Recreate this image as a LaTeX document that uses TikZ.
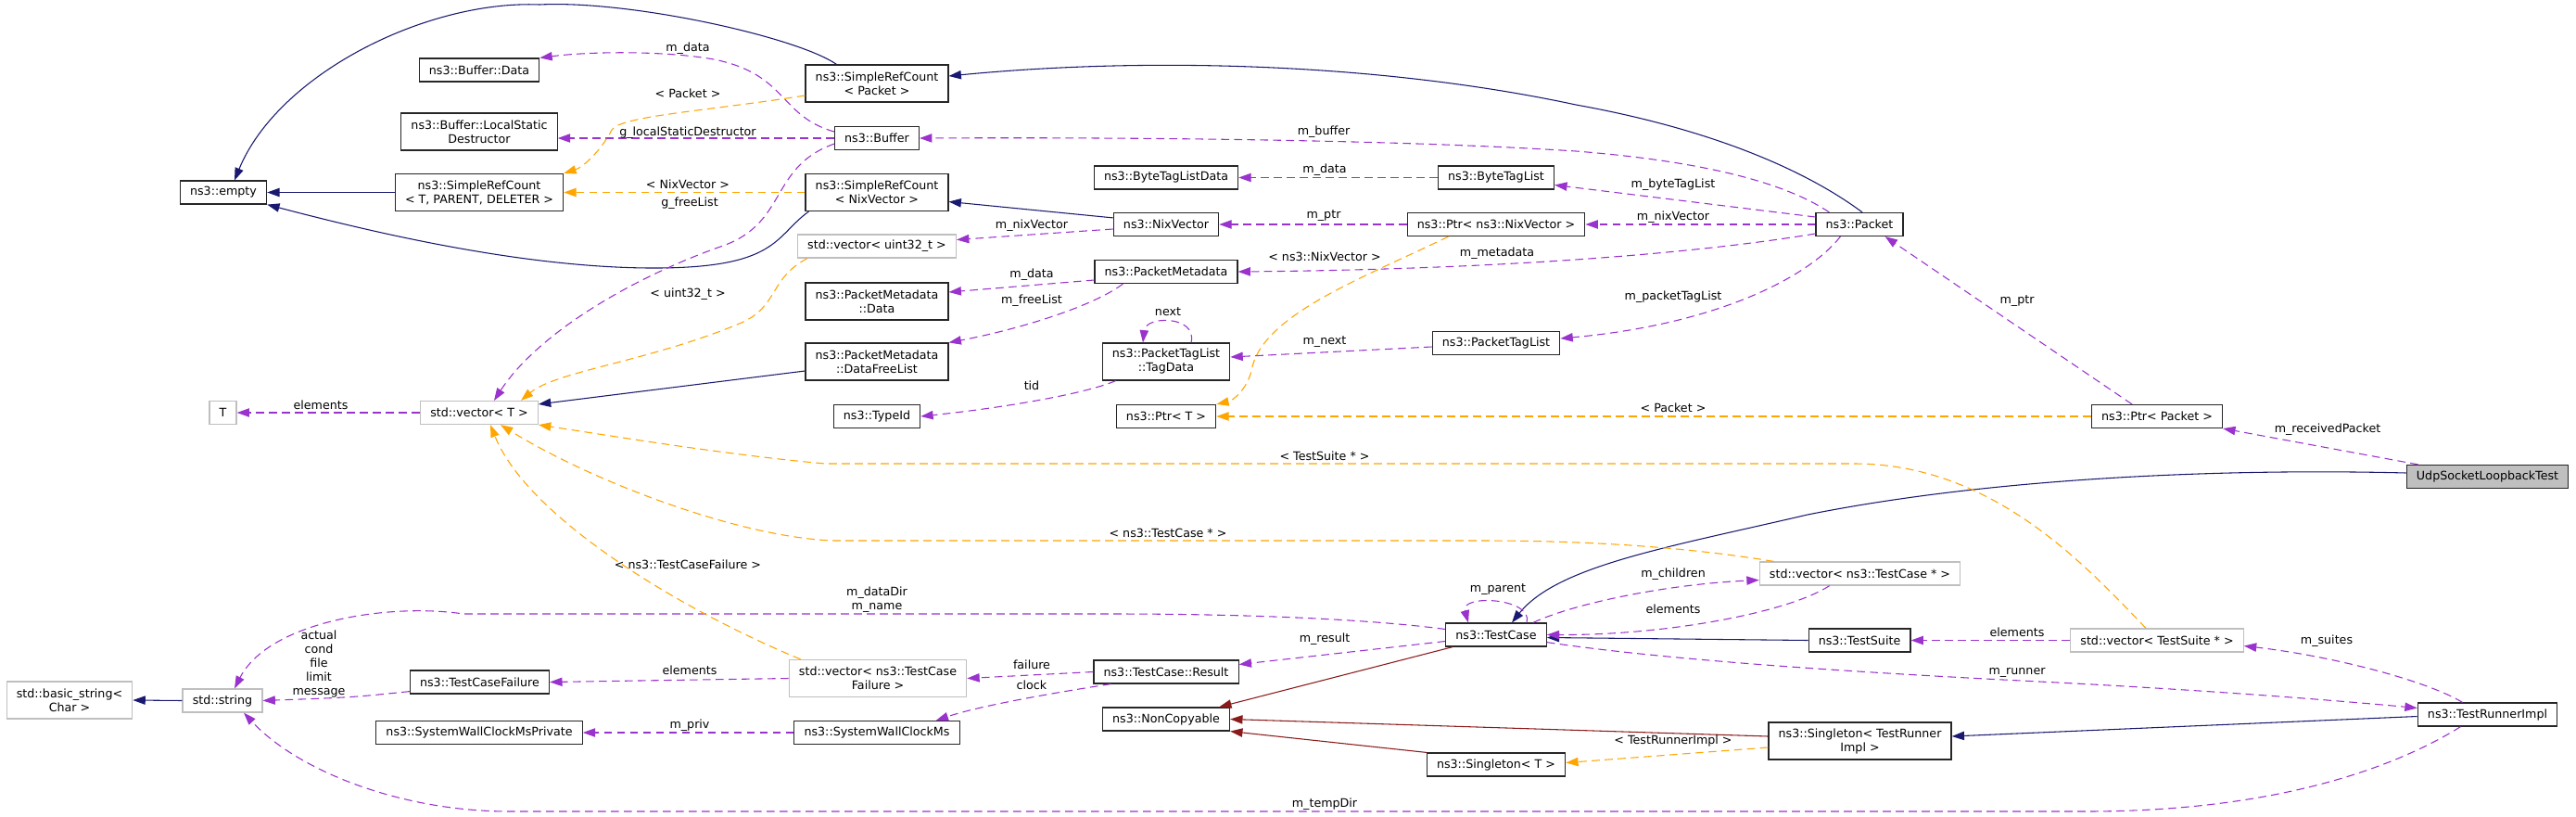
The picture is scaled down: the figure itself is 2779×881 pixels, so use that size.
\documentclass[tikz,border=0pt]{standalone}
\usepackage{fontspec}
\setmainfont{DejaVu Sans}
\usetikzlibrary{arrows.meta, calc}
\usetikzlibrary{positioning}

\definecolor{inhBlue}{HTML}{191970}
\definecolor{usePurple}{HTML}{9A32CD}
\definecolor{tmplOrange}{HTML}{FFA500}
\definecolor{privRed}{HTML}{8B1A1A}
\definecolor{extGray}{HTML}{BFBFBF}

\tikzset{
	classBox/.style={draw=black!85, fill=white, line width=0.9pt, font=\fontsize{9.5}{11.25}\selectfont,
		align=center, inner xsep=8pt, inner ysep=2pt, minimum height=18.75pt},
	extBox/.style={classBox, draw=extGray},
	twoLine/.style={minimum height=30pt},
	edgeLabel/.style={font=\fontsize{9.5}{11.25}\selectfont, align=center, inner sep=0pt},
	inherit/.style={draw=inhBlue, line width=0.8pt, -{Triangle[length=10pt,width=7pt]}},
	privInherit/.style={inherit, draw=privRed},
	usage/.style={inherit, draw=usePurple, dash pattern=on 6.5pt off 4pt},
	templ/.style={usage, draw=tmplOrange}
}

\begin{document}
\begin{tikzpicture}[x=0.75pt, y=-0.75pt]
		\fill[white] (0,0) rectangle (2779,881);
		\useasboundingbox (0,0) rectangle (2779,881);

		% Classes, left part.
		\node[classBox] (empty) at (241,207.5) {ns3::empty};
		\node[classBox] (bufdata) at (517,75.5) {ns3::Buffer::Data};
		\node[classBox,twoLine] (bufdestr) at (517,142) {ns3::Buffer::LocalStatic\\Destructor};
		\node[classBox,twoLine] (srctpd) at (517,207.5) {ns3::SimpleRefCount\\< T, PARENT, DELETER >};
		\node[extBox] (tnode) at (240.5,445) {T};
		\node[extBox] (vect) at (517,445) {std::vector< T >};
		\node[extBox] (string) at (240,755.5) {std::string};
		\node[extBox,twoLine] (basicstr) at (75,755) {std::basic\_string<\\Char >};
		\node[classBox] (casefail) at (517.5,735.5) {ns3::TestCaseFailure};
		\node[classBox] (swcpriv) at (517,790) {ns3::SystemWallClockMsPrivate};

		% Classes, second column.
		\node[classBox,twoLine] (srcpkt) at (946,90) {ns3::SimpleRefCount\\< Packet >};
		\node[classBox] (buffer) at (946,149) {ns3::Buffer};
		\node[classBox,twoLine] (srcnix) at (946,207.5) {ns3::SimpleRefCount\\< NixVector >};
		\node[extBox] (vecu32) at (946,265.5) {std::vector< uint32\_t >};
		\node[classBox,twoLine] (pmdata) at (946,325) {ns3::PacketMetadata\\::Data};
		\node[classBox,twoLine] (pmfree) at (946,390) {ns3::PacketMetadata\\::DataFreeList};
		\node[classBox] (typeid) at (946,449) {ns3::TypeId};
		\node[extBox,twoLine] (vecfail) at (947,731.5) {std::vector< ns3::TestCase\\Failure >};
		\node[classBox] (swc) at (946,790) {ns3::SystemWallClockMs};

		% Classes, third column.
		\node[classBox] (btldata) at (1258,191.5) {ns3::ByteTagListData};
		\node[classBox] (nixvec) at (1258,242) {ns3::NixVector};
		\node[classBox] (pktmeta) at (1258,293) {ns3::PacketMetadata};
		\node[classBox,twoLine] (tagdata) at (1258,390) {ns3::PacketTagList\\::TagData};
		\node[classBox] (ptrt) at (1258,449) {ns3::Ptr< T >};
		\node[classBox] (result) at (1258,724.5) {ns3::TestCase::Result};
		\node[classBox] (noncopy) at (1258,775.5) {ns3::NonCopyable};

		% Classes, fourth column.
		\node[classBox] (btl) at (1614,191.5) {ns3::ByteTagList};
		\node[classBox] (ptrnix) at (1614,242) {ns3::Ptr< ns3::NixVector >};
		\node[classBox] (ptl) at (1614,370) {ns3::PacketTagList};
		\node[classBox] (testcase) at (1614,684.5) {ns3::TestCase};
		\node[classBox] (singt) at (1614,824.5) {ns3::Singleton< T >};

		% Classes, right part.
		\node[classBox] (packet) at (2006,242) {ns3::Packet};
		\node[extBox] (veccase) at (2006.5,618.5) {std::vector< ns3::TestCase * >};
		\node[classBox] (suite) at (2006,690.5) {ns3::TestSuite};
		\node[classBox,twoLine] (singrun) at (2006.5,799) {ns3::Singleton< TestRunner\\Impl >};
		\node[classBox] (ptrpkt) at (2327,449) {ns3::Ptr< Packet >};
		\node[extBox] (vecsuite) at (2327,690.5) {std::vector< TestSuite * >};
		\node[classBox,fill=extGray] (udp) at (2683.5,514) {UdpSocketLoopbackTest};
		\node[classBox] (runner) at (2683.5,770.5) {ns3::TestRunnerImpl};

		% Public inheritance.
		\draw[inherit] ($(srcpkt.north west)+(34,0)$) .. controls (860,40) and (680,0) .. (582,5) .. controls (460,0) and (300,80) .. ($(empty.north)+(12,0)$);
		\draw[inherit] (srctpd.west) -- (empty.east);
		\draw[inherit] ($(srcnix.south west)+(4,0)$) .. controls (835,255) and (840,290) .. (700,289) .. controls (560,288) and (400,250) .. (empty.south east);
		\draw[inherit] ($(packet.north)+(3,0)$) .. controls (1950,185) and (1850,140) .. (1700,113) .. controls (1500,70) and (1250,60) .. ($(srcpkt.east)+(0,-8)$);
		\draw[inherit] ($(nixvec.north west)+(0,6)$) -- ($(srcnix.east)+(0,10)$);
		\draw[inherit] ($(pmfree.west)+(0,10)$) -- ($(vect.north east)+(0,4)$);
		\draw[inherit] (suite.west) -- ($(testcase.east)+(0,3)$);
		\draw[inherit] ($(udp.west)+(0,-4)$) .. controls (2400,505) and (2150,515) .. (1950,555) .. controls (1800,590) and (1680,610) .. ($(testcase.north)+(17,0)$);
		\draw[inherit] ($(runner.west)+(0,2)$) -- ($(singrun.east)+(0,-5)$);
		\draw[inherit] (string.west) -- (basicstr.east);

		% Private inheritance.
		\draw[privInherit] ($(testcase.south west)+(8,0)$) -- ($(noncopy.north east)+(-12,0)$);
		\draw[privInherit] ($(singrun.west)+(0,-5)$) -- (noncopy.east);
		\draw[privInherit] (singt.north west) -- (noncopy.south east);

		% Members.
		\draw[usage] ($(buffer.west)+(0,-7)$) .. controls (840,125) and (850,80) .. (770,64) .. controls (720,55) and (640,55) .. (bufdata.north east) node[edgeLabel] at (742,52) {m\_data};
		\draw[usage] (buffer.west) -- ($(bufdestr.east)+(0,7)$) node[edgeLabel] at (742,143) {g\_localStaticDestructor};
		\draw[usage] ($(buffer.south west)+(0,-7)$) .. controls (830,180) and (850,240) .. (780,265) .. controls (680,300) and (580,360) .. ($(vect.north)+(16,0)$) node[edgeLabel] at (744,219) {g\_freeList};
		\draw[usage] ($(packet.north west)+(15,0)$) .. controls (1930,200) and (1850,175) .. (1700,163) .. controls (1500,150) and (1200,148) .. (buffer.east) node[edgeLabel] at (1428,142) {m\_buffer};
		\draw[usage] (btl.west) -- (btldata.east) node[edgeLabel] at (1429,183) {m\_data};
		\draw[usage] ($(packet.west)+(0,-8)$) -- ($(btl.east)+(0,8)$) node[edgeLabel] at (1805,199) {m\_byteTagList};
		\draw[usage] (packet.west) -- (ptrnix.east) node[edgeLabel] at (1805,234) {m\_nixVector};
		\draw[usage] (ptrnix.west) -- (nixvec.east) node[edgeLabel] at (1428,233) {m\_ptr};
		\draw[usage] ($(nixvec.west)+(0,5)$) -- ($(vecu32.east)+(0,-7)$) node[edgeLabel] at (1113,243) {m\_nixVector};
		\draw[usage] ($(packet.west)+(0,10)$) .. controls (1850,270) and (1650,290) .. (pktmeta.east) node[edgeLabel] at (1615,273) {m\_metadata};
		\draw[usage] ($(pktmeta.west)+(0,9)$) -- ($(pmdata.east)+(0,-10)$) node[edgeLabel] at (1113,296) {m\_data};
		\draw[usage] ($(pktmeta.south west)+(31,0)$) .. controls (1180,330) and (1100,355) .. (pmfree.north east) node[edgeLabel] at (1113,324) {m\_freeList};
		\draw[usage] ($(tagdata.north)+(27,0)$) .. controls (1292,340) and (1236,340) .. ($(tagdata.north)+(-25,0)$) node[edgeLabel] at (1260,336) {next};
		\draw[usage] ($(ptl.west)+(0,4)$) -- ($(tagdata.east)+(0,-5)$) node[edgeLabel] at (1429,369) {m\_next};
		\draw[usage] ($(packet.south west)+(27,0)$) .. controls (1950,300) and (1850,350) .. ($(ptl.east)+(0,-5)$) node[edgeLabel] at (1805,320) {m\_packetTagList};
		\draw[usage] ($(tagdata.south west)+(15,0)$) .. controls (1170,425) and (1080,440) .. (typeid.east) node[edgeLabel] at (1113,416) {tid};
		\draw[usage] ($(ptrpkt.north)+(-27,0)$) -- ($(packet.south east)+(-20,0)$) node[edgeLabel] at (2176,325) {m\_ptr};
		\draw[usage] ($(udp.north west)+(13,0)$) -- (ptrpkt.south east) node[edgeLabel] at (2511,463) {m\_receivedPacket};
		\draw[usage] (vect.west) -- (tnode.east) node[edgeLabel] at (346,437) {elements};
		\draw[usage] ($(testcase.west)+(0,-6)$) .. controls (1480,668) and (1350,662) .. (1200,662) -- (500,662) .. controls (420,650) and (290,670) .. ($(string.north)+(13,0)$) node[edgeLabel] at (946,647) {m\_dataDir\\m\_name};
		\draw[usage] ($(casefail.south west)+(0,-3)$) .. controls (380,752) .. (string.east) node[edgeLabel] at (344,716) {actual\\cond\\file\\limit\\message};
		\draw[usage] (vecfail.west) -- (casefail.east) node[edgeLabel] at (744,723) {elements};
		\draw[usage] (result.west) -- (vecfail.east) node[edgeLabel] at (1113,717) {failure};
		\draw[usage] ($(result.south west)+(19,0)$) .. controls (1150,745) and (1060,760) .. ($(swc.north east)+(-26,0)$) node[edgeLabel] at (1113,739) {clock};
		\draw[usage] (swc.west) -- (swcpriv.east) node[edgeLabel] at (744,782) {m\_priv};
		\draw[usage] ($(testcase.west)+(0,7)$) -- ($(result.east)+(0,-8)$) node[edgeLabel] at (1429,689) {m\_result};
		\draw[usage] ($(testcase.north)+(33,0)$) .. controls (1655,645) and (1575,640) .. ($(testcase.north)+(-30,0)$) node[edgeLabel] at (1616,636) {m\_parent};
		\draw[usage] ($(testcase.north east)+(-15,0)$) .. controls (1700,650) and (1800,630) .. ($(veccase.west)+(0,7)$) node[edgeLabel] at (1805,619) {m\_children};
		\draw[usage] ($(veccase.south west)+(76,0)$) .. controls (1930,660) and (1800,685) .. (testcase.east) node[edgeLabel] at (1805,657) {elements};
		\draw[usage] (vecsuite.west) -- (suite.east) node[edgeLabel] at (2176,682) {elements};
		\draw[usage] ($(runner.north)+(-27,0)$) .. controls (2620,735) and (2520,708) .. ($(vecsuite.east)+(0,6)$) node[edgeLabel] at (2510,691) {m\_suites};
		\draw[usage] ($(testcase.south east)+(0,-5)$) .. controls (1800,712) and (2000,725) .. (2200,735) .. controls (2400,745) and (2550,758) .. ($(runner.west)+(0,-7)$) node[edgeLabel] at (2176,725) {m\_runner};
		\draw[usage] ($(runner.south)+(-29,0)$) .. controls (2580,830) and (2450,875) .. (2250,875) -- (550,875) .. controls (430,875) and (320,830) .. ($(string.south)+(23,0)$) node[edgeLabel] at (1429,867) {m\_tempDir};

		% Template instances.
		\draw[templ] ($(srcpkt.west)+(0,13)$) .. controls (760,120) and (670,125) .. (660,140) .. controls (650,160) and (630,180) .. (srctpd.north east) node[edgeLabel] at (742,101) {< Packet >};
		\draw[templ] (srcnix.west) -- (srctpd.east) node[edgeLabel] at (742,199) {< NixVector >};
		\draw[templ] ($(vecu32.south west)+(11,0)$) .. controls (830,300) and (840,330) .. (800,348) .. controls (700,390) and (600,400) .. ($(vect.north)+(45,0)$) node[edgeLabel] at (742,317) {< uint32\_t >};
		\draw[templ] ($(ptrnix.south west)+(45,0)$) .. controls (1470,300) and (1360,340) .. (1350,400) .. controls (1345,420) and (1330,432) .. (ptrt.north east) node[edgeLabel] at (1429,277) {< ns3::NixVector >};
		\draw[templ] (ptrpkt.west) -- (ptrt.east) node[edgeLabel] at (1805,440) {< Packet >};
		\draw[templ] ($(vecsuite.north)+(-12,0)$) .. controls (2250,610) and (2150,500) .. (2000,500) -- (890,500) .. controls (780,490) and (660,470) .. (vect.south east) node[edgeLabel] at (1429,492) {< TestSuite * >};
		\draw[templ] ($(veccase.north west)+(16,0)$) .. controls (1850,595) and (1750,583) .. (1600,583) -- (900,583) .. controls (800,580) and (640,520) .. ($(vect.south)+(23,0)$) node[edgeLabel] at (1260,575) {< ns3::TestCase * >};
		\draw[templ] ($(vecfail.north west)+(13,0)$) .. controls (740,660) and (570,560) .. ($(vect.south)+(12,0)$) node[edgeLabel] at (742,609) {< ns3::TestCaseFailure >};
		\draw[templ] ($(singrun.west)+(0,7)$) -- ($(singt.east)+(0,-2)$) node[edgeLabel] at (1805,799) {< TestRunnerImpl >};
\end{tikzpicture}
\end{document}
